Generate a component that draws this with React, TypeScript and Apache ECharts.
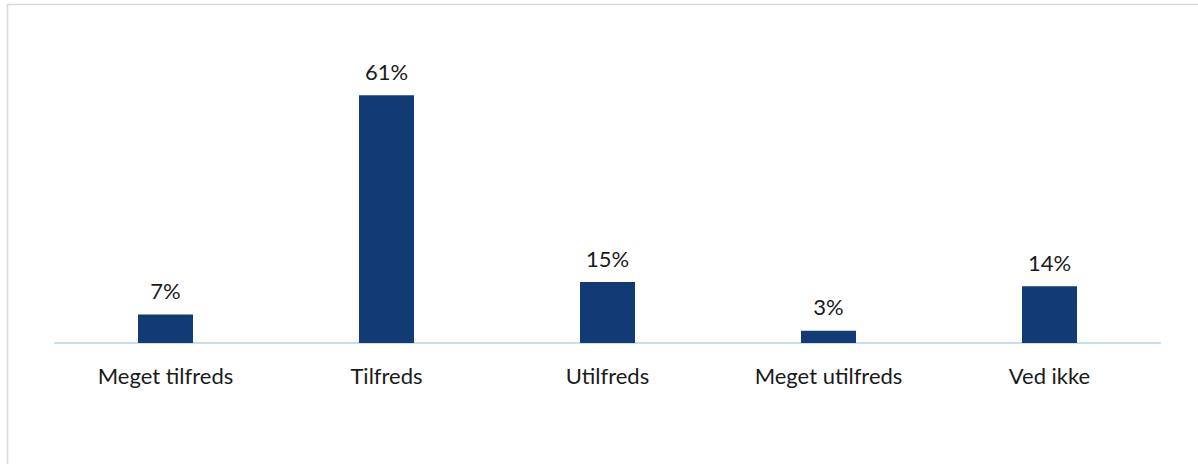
import React, { useEffect, useRef } from "react";
import * as echarts from "echarts";

const categories = ["Meget tilfreds", "Tilfreds", "Utilfreds", "Meget utilfreds", "Ved ikke"];
const values = [7, 61, 15, 3, 14];

export default function App() {
  const ref = useRef<HTMLDivElement>(null);
  useEffect(() => {
    if (!ref.current) return;
    const chart = echarts.init(ref.current, undefined, { renderer: "svg" });
    const font = "Lato, sans-serif";
    chart.setOption({
      animation: false,
      textStyle: { fontFamily: font },
      graphic: [
        {
          type: "rect",
          shape: { x: 7.5, y: 4.5, width: 1200, height: 470 },
          style: { fill: "none", stroke: "#d9d9d9", lineWidth: 1.5 },
          silent: true,
        },
      ],
      grid: { left: 55, right: 38, top: 18, bottom: 121, containLabel: false },
      xAxis: {
        type: "category",
        data: categories,
        axisLine: { lineStyle: { color: "#c9dcf0", width: 2 } },
        axisTick: { show: false },
        axisLabel: { color: "#1a1a1a", fontSize: 22, margin: 21, fontFamily: font },
      },
      yAxis: {
        type: "value",
        min: 0,
        max: 80,
        show: false,
        splitLine: { show: false },
      },
      series: [
        {
          type: "bar",
          data: values,
          barWidth: 55,
          itemStyle: { color: "#123b75" },
          label: {
            show: true,
            position: "top",
            distance: 13,
            formatter: "{c}%",
            color: "#1a1a1a",
            fontSize: 22,
            fontFamily: font,
          },
        },
      ],
    });
    return () => chart.dispose();
  }, []);
  return (
    <div
      ref={ref}
      style={{ position: "fixed", left: 0, top: 0, width: 1198, height: 464, background: "#fff" }}
    />
  );
}
